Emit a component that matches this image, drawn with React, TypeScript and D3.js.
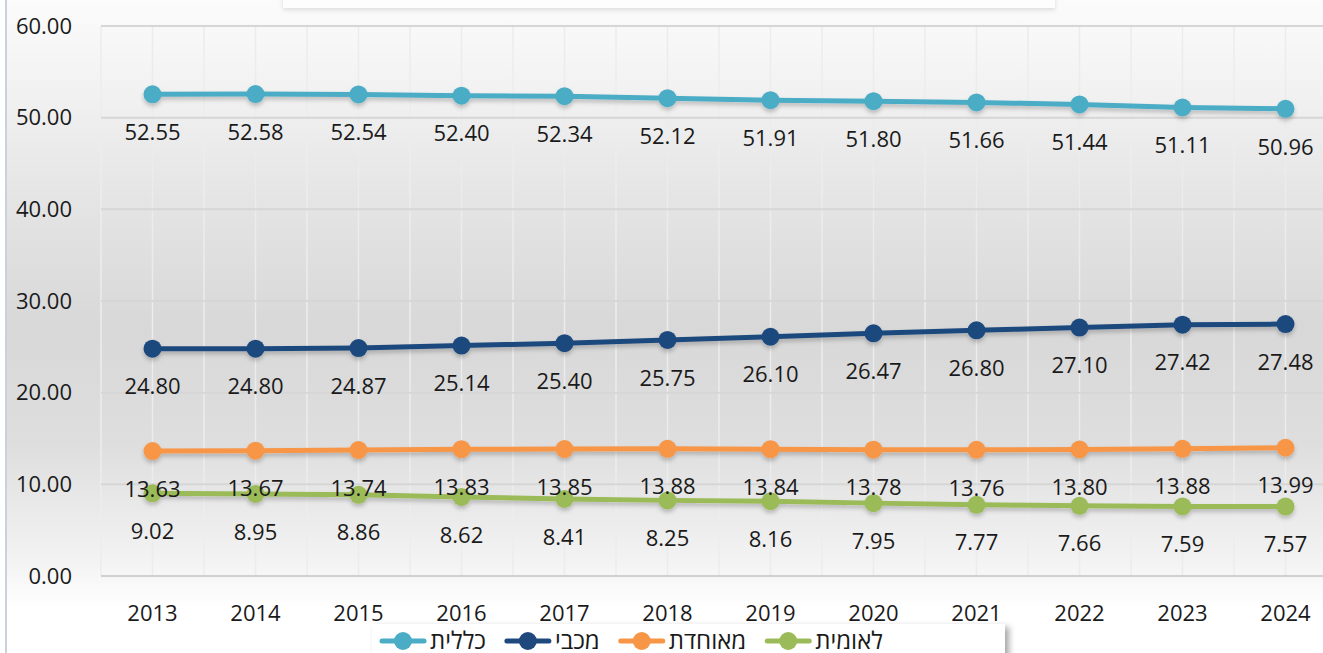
import React, { useEffect, useRef } from 'react';
import * as d3 from 'd3';

const years = ['2013', '2014', '2015', '2016', '2017', '2018', '2019', '2020', '2021', '2022', '2023', '2024'];
const clalit = [52.55, 52.58, 52.54, 52.4, 52.34, 52.12, 51.91, 51.8, 51.66, 51.44, 51.11, 50.96];
const maccabi = [24.8, 24.8, 24.87, 25.14, 25.4, 25.75, 26.1, 26.47, 26.8, 27.1, 27.42, 27.48];
const meuhedet = [13.63, 13.67, 13.74, 13.83, 13.85, 13.88, 13.84, 13.78, 13.76, 13.8, 13.88, 13.99];
const leumit = [9.02, 8.95, 8.86, 8.62, 8.41, 8.25, 8.16, 7.95, 7.77, 7.66, 7.59, 7.57];
const seriesNames = ['כללית', 'מכבי', 'מאוחדת', 'לאומית'];
const seriesColors = ['#4bacc6', '#1f497d', '#f79646', '#9bbb59'];
const yTicks = [0, 10, 20, 30, 40, 50, 60];

const W = 1323;
const H = 653;
const FONT = '"Open Sans", "DejaVu Sans", sans-serif';

const App: React.FC = () => {
  const ref = useRef<SVGSVGElement | null>(null);

  useEffect(() => {
    if (!ref.current) return;
    document.body.style.overflow = 'hidden';
    const svg = d3.select(ref.current);
    svg.selectAll('*').remove();

    const series = [clalit, maccabi, meuhedet, leumit].map((values, i) => ({
      name: seriesNames[i],
      color: seriesColors[i],
      values,
    }));

    const plot = { left: 101, top: 26, bottom: 576 };
    const x = d3.scaleBand<string>().domain(years).range([plot.left, plot.left + 103 * years.length]);
    const y = d3.scaleLinear().domain([0, 60]).range([plot.bottom, plot.top]);
    const cx = (yr: string) => (x(yr) as number) + x.bandwidth() / 2;

    // defs: background gradient and shadows
    const defs = svg.append('defs');
    const grad = defs
      .append('linearGradient')
      .attr('id', 'bg')
      .attr('x1', 0)
      .attr('y1', 0)
      .attr('x2', 0)
      .attr('y2', 1);
    [
      [0, '#fbfbfb'],
      [0.08, '#f6f6f6'],
      [0.3, '#e5e5e5'],
      [0.5, '#d8d8d8'],
      [0.68, '#dedede'],
      [0.86, '#f3f3f3'],
      [0.93, '#ffffff'],
      [1, '#ffffff'],
    ].forEach(([o, c]) => grad.append('stop').attr('offset', o as number).attr('stop-color', c as string));

    const shadow = defs.append('filter').attr('id', 'shadow').attr('x', '-10%').attr('y', '-50%').attr('width', '120%').attr('height', '200%');
    shadow
      .append('feDropShadow')
      .attr('dx', 0)
      .attr('dy', 3)
      .attr('stdDeviation', 2)
      .attr('flood-color', '#000')
      .attr('flood-opacity', 0.22);

    const boxShadow = defs.append('filter').attr('id', 'boxShadow').attr('x', '-5%').attr('y', '-30%').attr('width', '115%').attr('height', '180%');
    boxShadow
      .append('feDropShadow')
      .attr('dx', 4)
      .attr('dy', 3)
      .attr('stdDeviation', 3)
      .attr('flood-color', '#000')
      .attr('flood-opacity', 0.35);

    const softShadow = defs.append('filter').attr('id', 'softShadow').attr('x', '-5%').attr('y', '-30%').attr('width', '110%').attr('height', '200%');
    softShadow
      .append('feDropShadow')
      .attr('dx', 0)
      .attr('dy', 2)
      .attr('stdDeviation', 2)
      .attr('flood-color', '#000')
      .attr('flood-opacity', 0.12);

    // page background
    svg.append('rect').attr('width', W).attr('height', H).attr('fill', '#ffffff');
    svg.append('rect').attr('x', 7).attr('y', 0).attr('width', W - 7).attr('height', H).attr('fill', 'url(#bg)');
    svg.append('line').attr('x1', 6).attr('x2', 6).attr('y1', 0).attr('y2', H).attr('stroke', '#c9d1dc').attr('stroke-width', 2);

    // white title strip at the very top
    svg
      .append('rect')
      .attr('x', 283)
      .attr('y', -20)
      .attr('width', 772)
      .attr('height', 28)
      .attr('fill', '#fdfdfd')
      .attr('filter', 'url(#softShadow)');

    // vertical grid at band edges and centers
    const grid = svg.append('g');
    const vx: number[] = [];
    years.forEach((yr) => {
      vx.push(x(yr) as number, cx(yr));
    });
    vx.push(plot.left + 103 * years.length);
    grid
      .selectAll('line.v')
      .data(vx)
      .enter()
      .append('line')
      .attr('x1', (d) => d)
      .attr('x2', (d) => d)
      .attr('y1', plot.top)
      .attr('y2', plot.bottom)
      .attr('stroke', '#ececec')
      .attr('stroke-width', 1.5);

    grid
      .selectAll('line.h')
      .data(yTicks)
      .enter()
      .append('line')
      .attr('x1', plot.left)
      .attr('x2', W)
      .attr('y1', (d) => y(d))
      .attr('y2', (d) => y(d))
      .attr('stroke', (d) => (d === 0 ? '#d0d0d0' : '#d6d6d6'))
      .attr('stroke-width', 2);

    // y tick labels
    svg
      .append('g')
      .selectAll('text')
      .data(yTicks)
      .enter()
      .append('text')
      .attr('x', 72)
      .attr('y', (d) => y(d))
      .attr('dy', '0.35em')
      .attr('text-anchor', 'end')
      .attr('font-family', FONT)
      .attr('font-size', 22)
      .attr('fill', '#1a1a1a')
      .text((d) => d3.format('.2f')(d));

    // legend box
    const legend = svg.append('g');
    legend
      .append('rect')
      .attr('x', 372)
      .attr('y', 624)
      .attr('width', 633)
      .attr('height', 50)
      .attr('fill', '#ffffff')
      .attr('filter', 'url(#boxShadow)');

    // x tick labels
    svg
      .append('g')
      .selectAll('text')
      .data(years)
      .enter()
      .append('text')
      .attr('x', (d) => cx(d))
      .attr('y', 613)
      .attr('dy', '0.35em')
      .attr('text-anchor', 'middle')
      .attr('font-family', FONT)
      .attr('font-size', 22)
      .attr('fill', '#1a1a1a')
      .text((d) => d);

    // lines and markers
    const line = d3
      .line<number>()
      .x((_, i) => cx(years[i]))
      .y((d) => y(d));

    series.forEach((s) => {
      const g = svg.append('g').attr('filter', 'url(#shadow)');
      g.append('path')
        .attr('d', line(s.values) as string)
        .attr('fill', 'none')
        .attr('stroke', s.color)
        .attr('stroke-width', 5)
        .attr('stroke-linejoin', 'round');
      g.selectAll('circle')
        .data(s.values)
        .enter()
        .append('circle')
        .attr('cx', (_, i) => cx(years[i]))
        .attr('cy', (d) => y(d))
        .attr('r', 9)
        .attr('fill', s.color);
    });

    // data labels below points
    series.forEach((s) => {
      svg
        .append('g')
        .selectAll('text')
        .data(s.values)
        .enter()
        .append('text')
        .attr('x', (_, i) => cx(years[i]))
        .attr('y', (d) => y(d) + 38)
        .attr('dy', '0.35em')
        .attr('text-anchor', 'middle')
        .attr('font-family', FONT)
        .attr('font-size', 22)
        .attr('fill', '#1a1a1a')
        .text((d) => d3.format('.2f')(d));
    });

    // legend entries, laid out left to right
    let lx = 382;
    const ly = 641;
    series.forEach((s) => {
      legend
        .append('line')
        .attr('x1', lx)
        .attr('x2', lx + 42)
        .attr('y1', ly)
        .attr('y2', ly)
        .attr('stroke', s.color)
        .attr('stroke-width', 5)
        .attr('stroke-linecap', 'round');
      legend
        .append('circle')
        .attr('cx', lx + 21)
        .attr('cy', ly)
        .attr('r', 9)
        .attr('fill', s.color);
      const t = legend
        .append('text')
        .attr('x', lx + 48)
        .attr('y', ly)
        .attr('dy', '0.35em')
        .attr('font-family', FONT)
        .attr('font-size', 24)
        .attr('fill', '#1a1a1a')
        .text(s.name);
      const tw = (t.node() as SVGTextElement).getComputedTextLength();
      lx += 48 + tw + 21;
    });
  }, []);

  return (
    <svg
      ref={ref}
      width={W}
      height={H}
      style={{ display: 'block', position: 'absolute', left: 0, top: 0 }}
    />
  );
};

export default App;
